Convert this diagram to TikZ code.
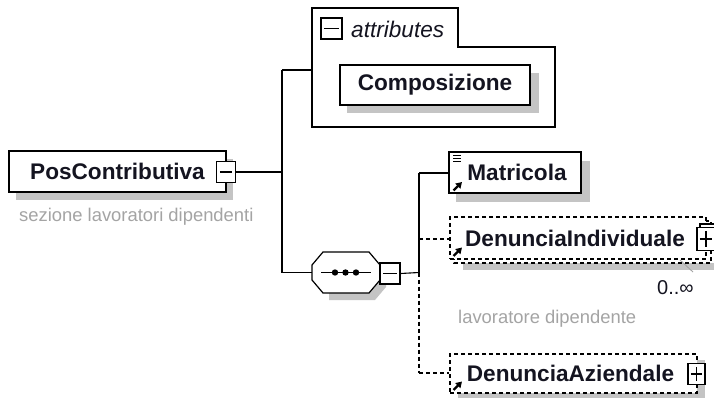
\documentclass[tikz,border=0pt]{standalone}
\usepackage{fontspec}
\setmainfont{Liberation Sans}
\usetikzlibrary{arrows.meta}
\definecolor{shadowc}{HTML}{C4C4C4}
\definecolor{descc}{HTML}{A4A4A4}
\definecolor{namec}{HTML}{141420}
\newcommand\namefont{\fontsize{22.6}{22.6}\selectfont\bfseries}
\newcommand\descfont{\fontsize{18.4}{18.4}\selectfont}
\tikzset{
  ebox/.style={draw, fill=white, line width=1.2pt, inner sep=0pt, text=namec, font=\namefont},
  dbox/.style={ebox, dashed, dash pattern=on 4pt off 3pt},
  shad/.style={fill=shadowc},
  conn/.style={line width=1.1pt},
  dconn/.style={line width=1.1pt, dash pattern=on 4pt off 3pt},
  sbox/.style={draw, fill=white, line width=1.2pt, inner sep=0pt, minimum width=19pt, minimum height=21pt},
  refarrow/.style={line width=2.2pt, -{Triangle[length=6pt,width=7pt]}},
  desc/.style={text=descc, font=\descfont, inner sep=0pt, anchor=west}
}
\begin{document}
\begin{tikzpicture}[x=1pt,y=-1pt]
\useasboundingbox (0,0) rectangle (714,398);
\clip (0,0) rectangle (714,398);
\fill[white] (0,0) rectangle (714,398);

% ---------- PosContributiva ----------
\fill[shad] (16,159) rectangle (233,200);
\node[ebox, minimum width=217pt, minimum height=41pt] (pc) at (117.5,171.5) {PosContributiva\hspace{4pt}};
\node[sbox] (pcm) at (226,172) {};
\draw[line width=1.1pt] ([xshift=4pt]pcm.west) -- ([xshift=-4pt]pcm.east);
\node[desc] (pcd) at (19,217) {sezione lavoratori dipendenti};

% connectors trunk
\coordinate (j1) at (282,172);
\coordinate (jt) at (282,70);
\coordinate (jb) at (282,272.5);
\draw[conn] (pcm.east) -- (j1);
\draw[conn] (jt) -- (jb);

% ---------- attributes group ----------
\node[minimum width=243pt, minimum height=119pt, inner sep=0pt] (attg) at (433.5,67.5) {};
\draw[line width=1.2pt] (312,8) -- (458,8) -- (458,47) -- (555,47) -- (555,127) -- (312,127) -- cycle;
\draw[conn] (jt) -- (attg.west |- jt);
\node[sbox, minimum width=21pt] (attm) at (331.5,28.5) {};
\draw[line width=1.1pt] ([xshift=4pt]attm.west) -- ([xshift=-4pt]attm.east);
\node[anchor=west, inner sep=0pt, text=namec, font=\fontsize{22.6}{22.6}\selectfont\itshape] (attt) at (351,29) {attributes};
\fill[shad] (347,73) rectangle (539,113);
\node[ebox, minimum width=190pt, minimum height=40pt] (comp) at (435,85) {Composizione};

% ---------- sequence ----------
\fill[shad] (329,259) -- (375,259) -- (386,272) -- (386,287) -- (375,300) -- (329,300) -- cycle;
\node[minimum width=68pt, minimum height=41pt, inner sep=0pt] (seq) at (346,272.5) {};
\draw[line width=1.2pt, fill=white] (323,252) -- (369,252) -- (380,265) -- (380,280) -- (369,293) -- (323,293) -- (312,280) -- (312,265) -- cycle;
\draw[line width=1.1pt] (321,272.5) -- (371,272.5);
\foreach \xx in {335,345.5,356} \fill (\xx,272.5) circle (3.2pt);
\draw[conn] (jb) -- (seq.west);
\node[sbox, minimum width=20pt] (seqm) at (390,273.5) {};
\draw[line width=1.1pt] ([xshift=4pt]seqm.west) -- ([xshift=-4pt]seqm.east);
\coordinate (k0) at (419,272.5);
\coordinate (k1) at (419,173);
\coordinate (k2) at (419,239);
\coordinate (k3) at (419,373);
\draw[conn] (seqm.east) -- (k0);
\draw[conn] (k1) -- (k0);
\draw[dconn] (k0) -- (k3);

% ---------- Matricola ----------
\fill[shad] (456,161) rectangle (590,202);
\node[ebox, minimum width=132pt, minimum height=41pt] (mat) at (515,172.5) {\hspace{4pt}Matricola};
\draw[conn] (k1) -- (mat.west |- k1);
\foreach \yy in {155.5,158.5,161.5} \draw[line width=1pt] (453,\yy) -- (461,\yy);
\draw[refarrow] (453.5,190.5) -- (462,182);

% ---------- DenunciaIndividuale ----------
\fill[shad] (463,263) rectangle (714,270);
\draw[line width=1.2pt, dash pattern=on 4pt off 3pt, fill=white] (454,221) rectangle (711,263);
\node[dbox, minimum width=256pt, minimum height=42pt] (di) at (578,238) {\hspace{-6pt}DenunciaIndividuale};
\draw[dconn] (k2) -- (di.west |- k2);
\draw[refarrow] (453.5,256) -- (462,247.5);
\draw[line width=1.2pt, fill=white] (700,224) rectangle (719,247);
\node[sbox, minimum width=18pt, minimum height=23pt] (dip) at (706,239) {};
\draw[line width=1.1pt] ([xshift=3.5pt]dip.west) -- ([xshift=-3.5pt]dip.east);
\draw[line width=1.1pt] ([yshift=-4pt]dip.north) -- ([yshift=4pt]dip.south);
\draw[descc, line width=0.9pt] (680,260) -- (693,272);
\node[anchor=west, inner sep=0pt, text=namec, font=\fontsize{20}{20}\selectfont] (occ) at (657,288) {0..∞};
\node[desc] (did) at (458,319) {lavoratore dipendente};

% ---------- DenunciaAziendale ----------
\fill[shad] (458,360) rectangle (705,398);
\node[dbox, minimum width=247pt, minimum height=39pt] (da) at (573.5,373.5) {\hspace{-6pt}DenunciaAziendale};
\draw[dconn] (k3) -- (da.west |- k3);
\draw[refarrow] (453.5,390) -- (462,381.5);
\node[sbox, minimum width=17pt, minimum height=21pt] (dap) at (696.5,374) {};
\draw[line width=1.1pt] ([xshift=3.5pt]dap.west) -- ([xshift=-3.5pt]dap.east);
\draw[line width=1.1pt] ([yshift=-4pt]dap.north) -- ([yshift=4pt]dap.south);
\end{tikzpicture}
\end{document}
